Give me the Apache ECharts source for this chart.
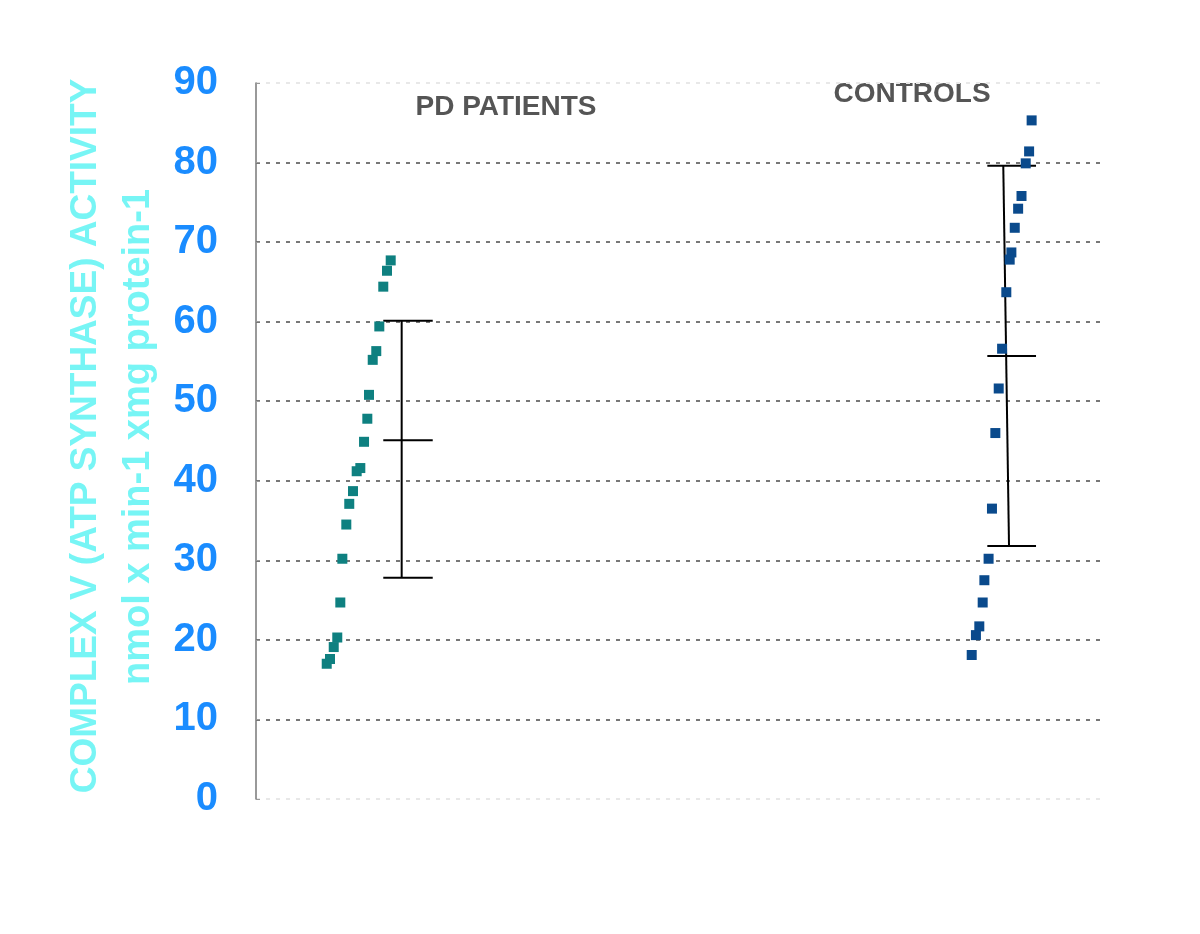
<!DOCTYPE html>
<html>
<head>
<meta charset="utf-8">
<script src="https://cdn.jsdelivr.net/npm/echarts@6/dist/echarts.min.js"></script>
<style>
html,body{margin:0;padding:0;background:#fff;}
#chart{width:1200px;height:934px;}
</style>
</head>
<body>
<div id="chart"></div>
<script>
// ---- data ----
const groupNames = ['PD PATIENTS', 'CONTROLS'];
const yTicks = [0, 10, 20, 30, 40, 50, 60, 70, 80, 90];
const yTitleLine1 = 'COMPLEX V (ATP SYNTHASE) ACTIVITY';
const yTitleLine2 = 'nmol x min-1 xmg protein-1';

// PD patients: horizontal jitter position (hidden axis 0-100) and activity
const pdX = [15.96, 15.52, 15.08, 14.61, 14.25, 13.83, 13.39, 13.19, 12.80, 12.36, 11.93, 11.49, 11.05, 10.70, 10.23, 9.99, 9.63, 9.21, 8.77, 8.38];
const pdY = [67.7, 66.4, 64.4, 59.4, 56.3, 55.2, 50.8, 47.8, 44.9, 41.6, 41.2, 38.7, 37.1, 34.5, 30.2, 24.7, 20.3, 19.1, 17.6, 17.0];

// Controls
const ctrlX = [91.9, 91.6, 91.2, 90.7, 90.3, 89.9, 89.5, 89.3, 88.9, 88.4, 88.0, 87.6, 87.2, 86.8, 86.3, 86.1, 85.7, 85.3, 84.8];
const ctrlY = [85.3, 81.4, 79.9, 75.8, 74.2, 71.8, 68.7, 67.8, 63.7, 56.6, 51.6, 46.0, 36.5, 30.2, 27.5, 24.7, 21.7, 20.6, 18.1];

// Mean +/- SD bars: [PD, Controls]
const barMean = [45.1, 55.7];
const barHigh = [60.1, 79.6];
const barLow = [27.8, 31.8];
const barXTop = [17.26, 88.54];
const barXBottom = [17.26, 89.22];
const capLeft = [15.08, 86.65];
const capRight = [20.94, 92.42];

// ---- chart ----
const chart = echarts.init(document.getElementById('chart'));
const font = 'Liberation Sans, Arial, sans-serif';

const barData = barMean.map((m, i) => [barXTop[i], barXBottom[i], barLow[i], m, barHigh[i], capLeft[i], capRight[i]]);

const gridColors = yTicks.map((t, i) => (i === 0 || i === yTicks.length - 1) ? '#e8e8e8' : '#777');

chart.setOption({
  animation: false,
  backgroundColor: '#fff',
  grid: { left: 256, right: 100, top: 83, bottom: 135 },
  xAxis: { type: 'value', min: 0, max: 100, show: false },
  yAxis: {
    type: 'value', min: 0, max: 90, interval: 10,
    axisLine: { show: true, lineStyle: { color: '#777', width: 1.5 } },
    axisTick: { show: true, inside: true, length: 4, lineStyle: { color: '#999' } },
    axisLabel: {
      color: '#1a8cff', fontSize: 40, fontWeight: 'bold', fontFamily: font, margin: 38,
      formatter: v => yTicks.includes(v) ? String(v) : ''
    },
    splitLine: { show: true, lineStyle: { color: gridColors, type: [4, 6], width: 2 } }
  },
  graphic: [
    { type: 'text', x: 86, y: 436, rotation: Math.PI / 2,
      style: { text: yTitleLine1, fill: '#77f5f5', font: 'bold 37px ' + font, textAlign: 'center', textVerticalAlign: 'middle' } },
    { type: 'text', x: 139, y: 437, rotation: Math.PI / 2,
      style: { text: yTitleLine2, fill: '#77f5f5', font: 'bold 38px ' + font, textAlign: 'center', textVerticalAlign: 'middle' } },
    { type: 'text', x: 506, y: 107,
      style: { text: groupNames[0], fill: '#555', font: 'bold 28px ' + font, textAlign: 'center', textVerticalAlign: 'middle' } },
    { type: 'text', x: 912, y: 94,
      style: { text: groupNames[1], fill: '#555', font: 'bold 28px ' + font, textAlign: 'center', textVerticalAlign: 'middle' } }
  ],
  series: [
    {
      type: 'custom',
      data: barData,
      z: 1,
      renderItem: function (params, api) {
        const xt = api.value(0), xb = api.value(1);
        const lo = api.value(2), me = api.value(3), hi = api.value(4);
        const cl = api.value(5), cr = api.value(6);
        const xm = xb + (xt - xb) * (me - lo) / (hi - lo);
        const top = api.coord([xt, hi]), bot = api.coord([xb, lo]), mid = api.coord([xm, me]);
        const style = { stroke: '#000', lineWidth: 2 };
        const cap = (y) => {
          const a = api.coord([cl, y]), b = api.coord([cr, y]);
          return { type: 'line', shape: { x1: a[0], y1: a[1], x2: b[0], y2: b[1] }, style };
        };
        return {
          type: 'group',
          children: [
            { type: 'line', shape: { x1: top[0], y1: top[1], x2: bot[0], y2: bot[1] }, style },
            cap(hi), cap(me), cap(lo)
          ]
        };
      }
    },
    {
      type: 'scatter', symbol: 'rect', symbolSize: 10, z: 3,
      itemStyle: { color: '#0e8080', opacity: 1 },
      data: pdX.map((x, i) => [x, pdY[i]])
    },
    {
      type: 'scatter', symbol: 'rect', symbolSize: 10, z: 3,
      itemStyle: { color: '#0a4a8c', opacity: 1 },
      data: ctrlX.map((x, i) => [x, ctrlY[i]])
    }
  ]
});
</script>
</body>
</html>
